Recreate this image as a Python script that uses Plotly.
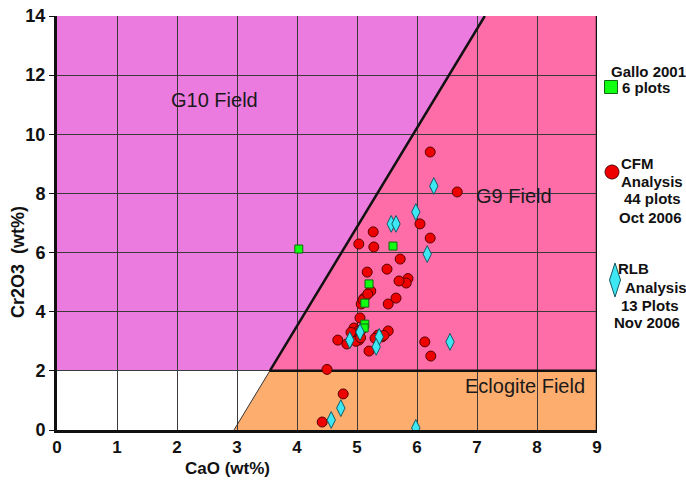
import plotly.graph_objects as go

# ---- data: garnet Cr2O3 vs CaO (wt%) ----
gallo_cao = [4.03, 5.60, 5.20, 5.13, 5.13, 5.12]
gallo_cr = [6.12, 6.22, 4.94, 4.29, 3.58, 3.45]

cfm_cao = [6.22, 6.67, 6.05, 6.22, 5.27, 5.03, 5.28, 5.72, 5.50, 5.17,
           5.85, 5.82, 5.70, 5.23, 5.12, 5.07, 5.52, 5.65, 5.05, 4.95,
           5.02, 4.97, 5.03, 4.83, 4.68, 5.52, 5.42, 5.35, 5.20, 6.13,
           6.23, 4.50, 4.77, 4.42, 5.00, 4.92, 5.08, 4.98, 5.10, 5.45,
           5.18, 4.90, 5.06, 5.30]
cfm_cr = [9.40, 8.05, 6.97, 6.49, 6.70, 6.29, 6.19, 5.78, 5.44, 5.34,
          5.12, 4.97, 5.04, 4.70, 4.46, 4.26, 4.26, 4.46, 3.79, 3.45,
          3.35, 3.18, 3.04, 2.91, 3.04, 3.35, 3.15, 3.21, 2.67, 2.98,
          2.50, 2.05, 1.22, 0.27, 3.25, 3.10, 3.40, 3.00, 4.40, 3.20,
          4.60, 3.30, 3.12, 3.10]

rlb_cao = [6.28, 5.98, 5.57, 5.65, 6.17, 6.55, 4.88, 5.05, 5.37, 5.32,
           4.73, 4.57, 5.98]
rlb_cr = [8.25, 7.37, 6.97, 6.97, 5.95, 2.98, 3.04, 3.31, 3.15, 2.81,
          0.74, 0.34, 0.07]

x_ticks = [0, 1, 2, 3, 4, 5, 6, 7, 8, 9]
y_ticks = [0, 2, 4, 6, 8, 10, 12, 14]

# G9 / G10 divide: CaO = CAO_AT_ZERO + SLOPE * Cr2O3 ; eclogite below ECLOGITE_CR
CAO_AT_ZERO = 2.95
CAO_AT_TOP = 7.13
ECLOGITE_CR = 2.0
X_MAX, Y_MAX = 9, 14
SLOPE = (CAO_AT_TOP - CAO_AT_ZERO) / Y_MAX
x_at_ecl = CAO_AT_ZERO + SLOPE * ECLOGITE_CR

FONT = "Liberation Sans, Arial, sans-serif"
C_G10 = "#EC7BE0"
C_G9 = "#FE6DA8"
C_ECL = "#FDAD6D"

fig = go.Figure()


def poly(pts):
    return "M " + " L ".join(f"{x},{y}" for x, y in pts) + " Z"


shapes = [
    dict(type="path", layer="below", line=dict(width=0), fillcolor=C_G10,
         path=poly([(0, ECLOGITE_CR), (x_at_ecl, ECLOGITE_CR),
                    (CAO_AT_TOP, Y_MAX), (0, Y_MAX)])),
    dict(type="path", layer="below", line=dict(width=0), fillcolor=C_G9,
         path=poly([(x_at_ecl, ECLOGITE_CR), (X_MAX, ECLOGITE_CR),
                    (X_MAX, Y_MAX), (CAO_AT_TOP, Y_MAX)])),
    dict(type="path", layer="below", line=dict(width=0), fillcolor=C_ECL,
         path=poly([(CAO_AT_ZERO, 0), (X_MAX, 0), (X_MAX, ECLOGITE_CR),
                    (x_at_ecl, ECLOGITE_CR)])),
    # field boundaries
    dict(type="line", layer="between", x0=x_at_ecl, y0=ECLOGITE_CR,
         x1=CAO_AT_TOP, y1=Y_MAX, line=dict(color="#111111", width=2.5)),
    dict(type="line", layer="between", x0=CAO_AT_ZERO, y0=0,
         x1=x_at_ecl, y1=ECLOGITE_CR, line=dict(color="#333333", width=1)),
    dict(type="line", layer="between", x0=x_at_ecl, y0=ECLOGITE_CR,
         x1=X_MAX, y1=ECLOGITE_CR, line=dict(color="#111111", width=2.5)),
    # right frame edge
    dict(type="line", layer="between", x0=X_MAX, y0=0, x1=X_MAX, y1=Y_MAX,
         line=dict(color="#111111", width=2.5)),
]

fig.add_trace(go.Scatter(
    x=cfm_cao, y=cfm_cr, mode="markers", name="CFM",
    marker=dict(symbol="circle", size=10, color="#EE0000",
                line=dict(color="#5a0000", width=1))))
fig.add_trace(go.Scatter(
    x=gallo_cao, y=gallo_cr, mode="markers", name="Gallo 2001",
    marker=dict(symbol="square", size=8, color="#11FF11",
                line=dict(color="#116611", width=1))))
fig.add_trace(go.Scatter(
    x=rlb_cao, y=rlb_cr, mode="markers", name="RLB",
    marker=dict(symbol="diamond-tall", size=12, color="#3DE8F2",
                line=dict(color="#125a66", width=1))))

# field labels
field_font = dict(family=FONT, size=20, color="#1a1a1a")
annotations = [
    dict(x=2.63, y=11.15, text="G10 Field", showarrow=False, font=field_font),
    dict(x=7.62, y=7.9, text="G9 Field", showarrow=False, font=field_font),
    dict(x=7.8, y=1.48, text="Eclogite Field", showarrow=False, font=field_font),
]

# paper coordinates from pixel positions
L, R, T, B = 57, 597, 16, 430


def px(xp):
    return (xp - L) / (R - L)


def py(yp):
    return (B - yp) / (B - T)


# axis titles
title_font = dict(family=FONT, size=17, color="#111111")
annotations += [
    dict(xref="paper", yref="paper", x=px(227), y=py(468),
         text="<b>CaO (wt%)</b>", showarrow=False, font=title_font,
         xanchor="center", yanchor="middle"),
    dict(xref="paper", yref="paper", x=px(18), y=py(262),
         text="<b>Cr2O3  (wt%)</b>", showarrow=False, textangle=-90,
         font=dict(family=FONT, size=18, color="#111111"),
         xanchor="center", yanchor="middle"),
]

# side legend
leg_font = dict(family=FONT, size=15, color="#111111")
leg_lines = [
    (648, 71, "<b>Gallo 2001</b>"),
    (646, 87, "<b>6 plots</b>"),
    (637, 163, "<b>CFM</b>"),
    (652, 181, "<b>Analysis</b>"),
    (652, 199, "<b>44 plots</b>"),
    (650, 217, "<b>Oct 2006</b>"),
    (633, 268, "<b>RLB</b>"),
    (656, 287, "<b>Analysis</b>"),
    (650, 305, "<b>13 Plots</b>"),
    (647, 322, "<b>Nov 2006</b>"),
]
for xp, yp, t in leg_lines:
    annotations.append(dict(xref="paper", yref="paper", x=px(xp), y=py(yp),
                            text=t, showarrow=False, font=leg_font,
                            xanchor="center", yanchor="middle"))

shapes += [
    dict(type="rect", xref="paper", yref="paper", xsizemode="pixel",
         ysizemode="pixel", xanchor=px(611), yanchor=py(87),
         x0=-6.5, x1=6.5, y0=-6.5, y1=6.5, fillcolor="#11FF11",
         line=dict(color="#116611", width=1)),
    dict(type="circle", xref="paper", yref="paper", xsizemode="pixel",
         ysizemode="pixel", xanchor=px(612), yanchor=py(172),
         x0=-7, x1=7, y0=-7, y1=7, fillcolor="#EE0000",
         line=dict(color="#5a0000", width=1)),
    dict(type="path", xref="paper", yref="paper", xsizemode="pixel",
         ysizemode="pixel", xanchor=px(615), yanchor=py(280),
         path="M 0,-17 L 5.5,0 L 0,17 L -5.5,0 Z", fillcolor="#3DE8F2",
         line=dict(color="#125a66", width=1)),
]

axis_common = dict(showgrid=True, gridcolor="#3a3a3a", gridwidth=1,
                   zeroline=False, showline=True, linecolor="#111111",
                   linewidth=3, tickcolor="#111111", automargin=False)

fig.update_layout(
    width=686, height=486,
    margin=dict(l=57, r=89, t=16, b=56),
    paper_bgcolor="white", plot_bgcolor="white",
    showlegend=False,
    shapes=shapes, annotations=annotations,
    xaxis=dict(range=[0, X_MAX], tickvals=x_ticks,
               ticktext=[f"<b>{v}</b>" for v in x_ticks],
               ticks="", ticklabelstandoff=0,
               tickfont=dict(family=FONT, size=17, color="#111111"),
               **axis_common),
    yaxis=dict(range=[0, Y_MAX], tickvals=y_ticks,
               ticktext=[f"<b>{v}</b>" for v in y_ticks],
               ticks="outside", ticklen=5,
               tickfont=dict(family=FONT, size=18, color="#111111"),
               **axis_common),
)

fig.write_html("out.html")
